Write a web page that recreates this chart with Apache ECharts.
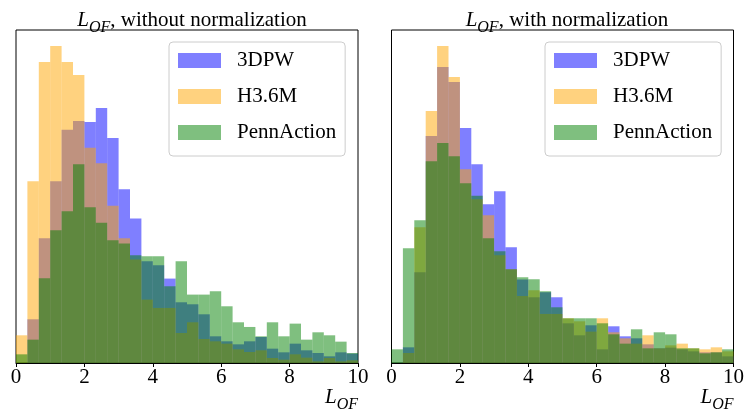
<!DOCTYPE html>
<html>
<head>
<meta charset="utf-8">
<script src="https://cdn.jsdelivr.net/npm/echarts@6/dist/echarts.min.js"></script>
<style>
  html, body { margin: 0; padding: 0; background: #fff; }
  #chart { width: 748px; height: 410px; }
</style>
</head>
<body>
<div id="chart"></div>
<script>
// histogram bins: 30 bins of width 1/3 over 0..10
const bins = Array.from({ length: 30 }, (_, i) => (i / 3).toFixed(2));
const seriesNames = ['3DPW', 'H3.6M', 'PennAction'];
const seriesColors = ['#0000ff', '#ffa500', '#008000'];
const xTicks = [0, 2, 4, 6, 8, 10];

// without normalization (relative counts)
const pw3Raw = [0, 131, 374, 545, 699, 725, 722, 764, 674, 521, 433, 305, 293, 253, 182,
  176, 146, 80, 65, 56, 65, 78, 43, 32, 58, 38, 30, 20, 32, 28];
const h36Raw = [83, 545, 902, 950, 902, 863, 645, 599, 471, 374, 310, 190, 165, 165, 90,
  122, 72, 65, 58, 41, 33, 38, 15, 10, 26, 16, 5, 15, 5, 8];
const pennRaw = [26, 70, 254, 398, 455, 596, 467, 420, 368, 358, 323, 320, 320, 230, 305,
  205, 205, 215, 170, 122, 108, 80, 122, 80, 118, 70, 92, 83, 64, 30];

// with normalization
const pw3Norm = [0, 47, 272, 680, 887, 842, 704, 596, 476, 515, 347, 250, 197, 212, 197,
  119, 83, 113, 41, 110, 80, 74, 56, 44, 46, 41, 35, 32, 32, 20];
const h36Norm = [0, 30, 407, 755, 950, 857, 581, 491, 443, 323, 281, 201, 218, 147, 147,
  134, 125, 94, 134, 92, 74, 58, 83, 44, 53, 58, 44, 41, 47, 35];
const pennNorm = [41, 344, 428, 605, 659, 620, 539, 501, 374, 335, 281, 257, 251, 215, 167,
  134, 134, 134, 119, 86, 58, 101, 44, 92, 86, 44, 44, 29, 32, 41];

const yMax = 998;
const font = 'Liberation Serif';

const rich = {
  i: { fontFamily: font, fontStyle: 'italic', fontWeight: 'normal', fontSize: 21, color: '#000', verticalAlign: 'top' },
  sub: { fontFamily: font, fontStyle: 'italic', fontWeight: 'normal', fontSize: 16, color: '#000', verticalAlign: 'top', padding: [10, 0, 0, 0] },
  n: { fontFamily: font, fontWeight: 'normal', fontSize: 21, color: '#000', verticalAlign: 'top' }
};

const chart = echarts.init(document.getElementById('chart'));

function panelSeries(gridIdx, data) {
  return data.map((d, k) => ({
    name: seriesNames[k],
    type: 'bar',
    xAxisIndex: gridIdx * 2 + 1,
    yAxisIndex: gridIdx,
    data: d,
    barWidth: '100%',
    barGap: '-100%',
    itemStyle: { color: seriesColors[k], opacity: 0.5 },
    emphasis: { disabled: true },
    animation: false
  }));
}

function valueAxis(gridIdx) {
  return {
    type: 'value',
    gridIndex: gridIdx,
    position: 'bottom',
    min: 0,
    max: 10,
    interval: 2,
    splitLine: { show: false },
    axisLine: { show: true, lineStyle: { color: '#000', width: 1 } },
    axisTick: { show: true, length: 4, lineStyle: { color: '#000' } },
    axisLabel: {
      color: '#000', fontFamily: font, fontSize: 21, margin: 4,
      formatter: v => (xTicks.indexOf(v) >= 0 ? String(v) : '')
    },
    name: '{i|L}{sub|OF}',
    nameLocation: 'end',
    nameGap: 0,
    nameMoveOverlap: false,
    nameTextStyle: { align: 'right', verticalAlign: 'top', padding: [24, 0, 0, 0], rich: rich }
  };
}

function catAxis(gridIdx) {
  return {
    type: 'category',
    gridIndex: gridIdx,
    data: bins,
    boundaryGap: true,
    show: false
  };
}

function legendAt(left) {
  return {
    data: seriesNames,
    orient: 'vertical',
    left: left,
    top: 42,
    icon: 'rect',
    itemWidth: 43,
    itemHeight: 15,
    itemGap: 15,
    padding: [8, 9, 13, 9],
    backgroundColor: 'rgba(255,255,255,0.8)',
    borderColor: '#cccccc',
    borderWidth: 1,
    borderRadius: 4,
    itemStyle: { opacity: 0.5 },
    selectedMode: false,
    textStyle: { fontFamily: font, fontSize: 21, color: '#000', lineHeight: 15, padding: [0, 0, 0, 11] }
  };
}

const gridBase = { top: 30, width: 342, height: 333, show: true, borderColor: '#000', borderWidth: 1, outerBoundsMode: 'none', containLabel: false };

const option = {
  animation: false,
  title: [
    { text: '{i|L}{sub|OF}{n|, without normalization}', left: 187, top: 5, textAlign: 'center', textStyle: { fontWeight: 'normal', rich: rich } },
    { text: '{i|L}{sub|OF}{n|, with normalization}', left: 562, top: 5, textAlign: 'center', textStyle: { fontWeight: 'normal', rich: rich } }
  ],
  legend: [legendAt(169), legendAt(545)],
  grid: [
    Object.assign({ left: 16 }, gridBase),
    Object.assign({ left: 391.5 }, gridBase)
  ],
  xAxis: [valueAxis(0), catAxis(0), valueAxis(1), catAxis(1)],
  yAxis: [0, 1].map(g => ({
    type: 'value', gridIndex: g, min: 0, max: yMax,
    show: false, splitLine: { show: false }
  })),
  series: [
    ...panelSeries(0, [pw3Raw, h36Raw, pennRaw]),
    ...panelSeries(1, [pw3Norm, h36Norm, pennNorm])
  ]
};

chart.setOption(option);
</script>
</body>
</html>
